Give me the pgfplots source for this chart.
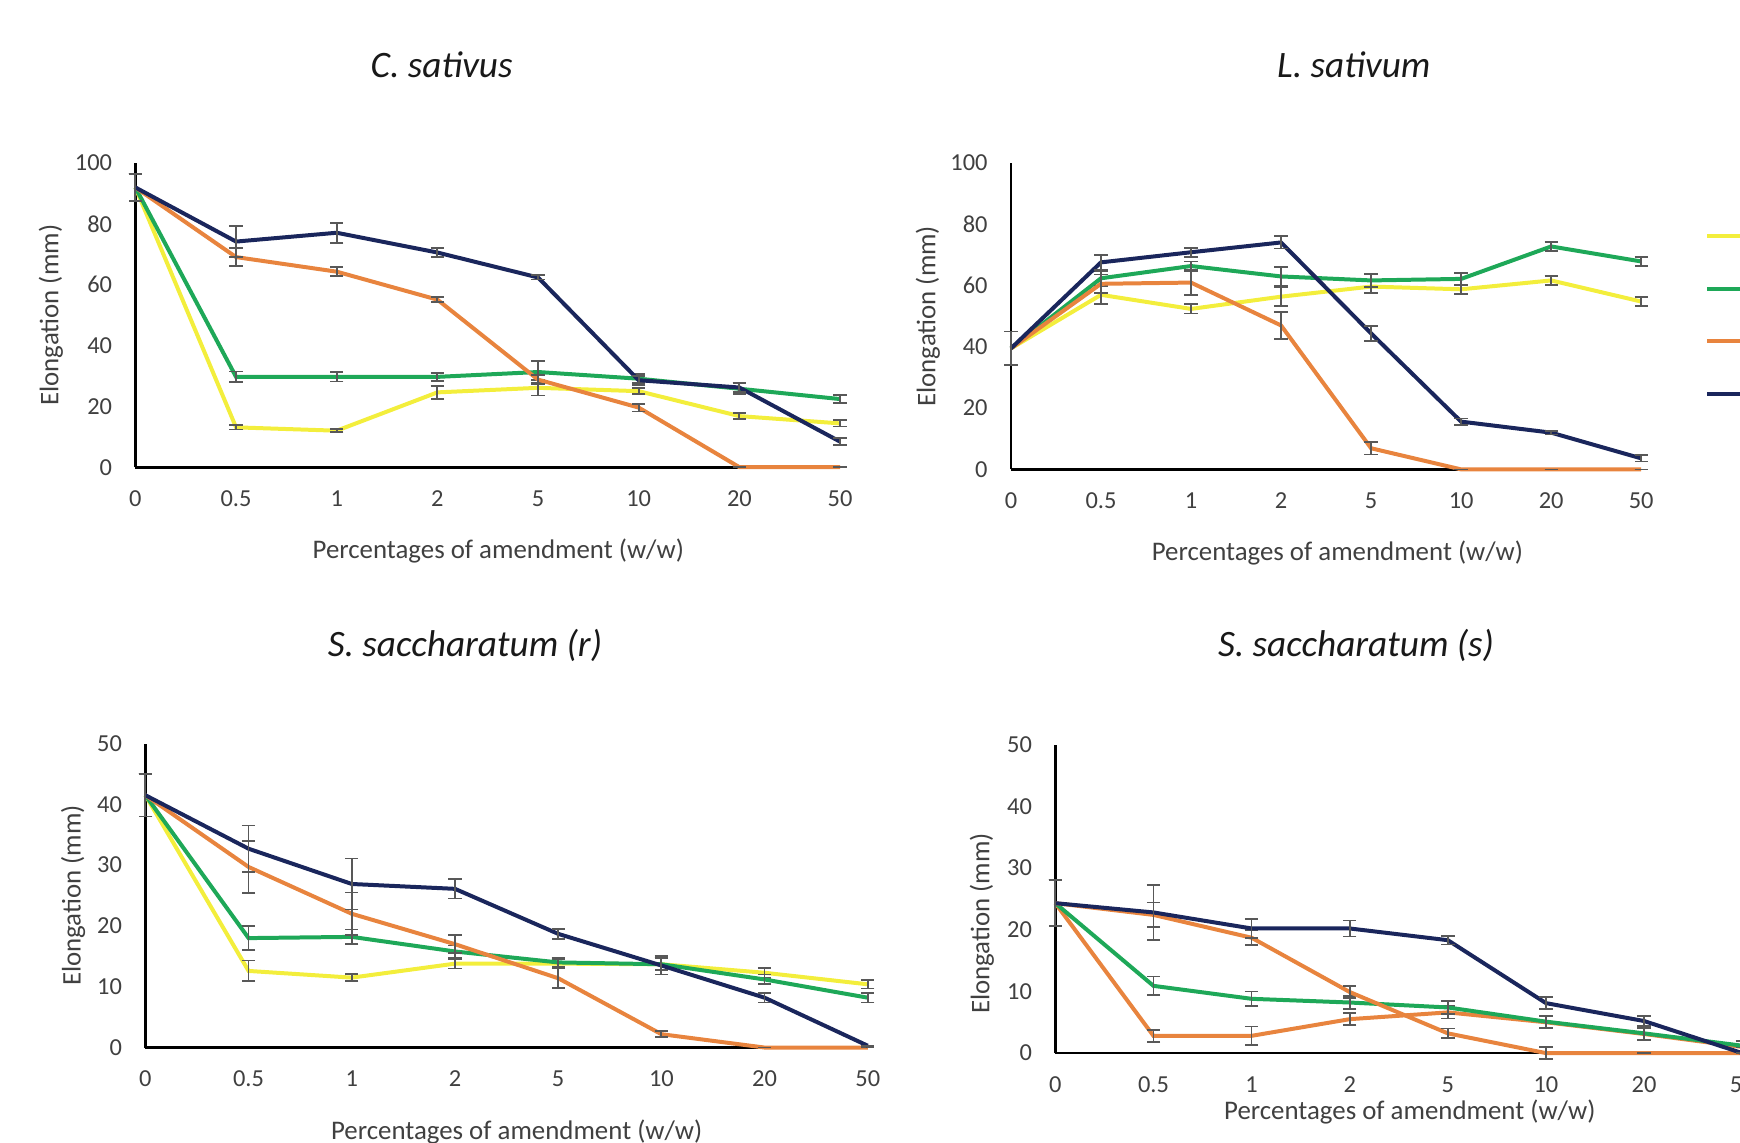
\documentclass[border=0pt]{standalone}
\usepackage{fontspec}
\setmainfont{Carlito}
\usepackage{pgfplots}
\usepackage{pgfplotstable}
\pgfplotsset{compat=1.18}

\definecolor{cyel}{RGB}{243,238,60}
\definecolor{cgrn}{RGB}{30,168,88}
\definecolor{corg}{RGB}{232,132,62}
\definecolor{cnav}{RGB}{26,38,92}
\definecolor{errgray}{RGB}{88,88,88}
\definecolor{txtgray}{RGB}{64,64,64}

% columns: x, series value, error (y = yellow, g = green, o = orange, n = navy)
\pgfplotstableread{
x  y    ye   g    ge   o    oe   n    ne
0  92.0 4.5  92.0 4.5  92.0 4.5  92.0 4.5
1  13.1 0.7  29.7 1.8  69.1 3.0  74.2 5.0
2  12.0 0.5  29.7 1.5  64.3 1.5  77.1 3.3
3  24.6 2.2  29.7 1.3  55.1 0.8  70.6 1.5
4  26.1 2.5  31.3 3.6  28.8 1.5  62.4 0.7
5  25.0 1.0  29.1 1.5  19.6 1.3  28.6 1.5
6  16.8 1.0  25.8 1.8  0.0  0.0  26.2 1.5
7  14.4 1.0  22.4 1.3  0.0  0.0  8.4  1.2
}\csativus

\pgfplotstableread{
x  y    ye   g    ge   o    oe   n    ne
0  39.5 5.5  39.5 5.5  39.5 5.5  39.5 5.5
1  57.0 3.0  62.4 2.5  60.6 3.0  67.6 2.5
2  52.4 1.5  66.4 1.5  61.0 4.0  70.9 1.5
3  56.4 3.0  63.0 3.0  47.0 4.5  74.1 2.0
4  59.7 2.0  61.7 2.2  6.9  2.0  44.4 2.5
5  58.8 1.5  62.2 2.0  0.0  0.0  15.6 1.0
6  61.7 1.5  72.8 1.5  0.0  0.0  12.0 0.6
7  54.8 1.5  67.9 1.5  0.0  0.0  3.6  1.0
}\lsativum

\pgfplotstableread{
x  y    ye   g    ge   o    oe   n    ne
0  41.5 3.5  41.5 3.5  41.5 3.5  41.5 3.5
1  12.6 1.7  18.0 2.0  29.7 4.3  32.7 3.8
2  11.5 0.6  18.2 1.2  22.0 3.5  26.9 4.2
3  13.8 0.8  15.8 1.0  17.0 1.5  26.1 1.6
4  13.8 0.8  14.0 0.8  11.4 1.6  18.7 0.8
5  13.7 1.0  13.7 1.0  2.2  0.5  13.5 1.5
6  12.3 0.8  11.2 0.8  0.0  0.0  8.2  0.8
7  10.4 0.7  8.2  0.8  0.0  0.0  0.3  0.0
}\ssacr

\pgfplotstableread{
x  y    ye   g    ge   o    oe   n    ne
0  24.3 3.7  24.3 3.7  24.3 3.7  24.3 3.7
1  2.8  1.0  10.9 1.5  22.4 2.0  22.8 4.5
2  2.8  1.5  8.8  1.2  18.7 1.2  20.2 1.5
3  5.5  1.0  8.2  1.0  9.9  1.0  20.2 1.3
4  6.6  1.0  7.4  1.0  3.2  0.8  18.3 0.7
5  5.0  1.0  5.1  1.0  0.0  1.0  8.1  1.0
6  3.1  1.0  3.2  1.0  0.0  0.0  5.2  0.8
7  1.0  0.0  1.2  0.8  0.0  0.0  0.0  0.0
}\ssacs

\tikzset{ttl/.style={font=\fontsize{16.8}{19}\selectfont\itshape, text=black!90}}

\pgfplotsset{
  elong/.style={
    scale only axis,
    anchor=south west,
    xmin=0, xmax=7,
    xtick={0,...,7},
    xticklabels={0,0.5,1,2,5,10,20,50},
    axis x line=bottom,
    axis y line=left,
    axis line style={-, black, line width=1.2pt},
    major tick length=0pt,
    tick label style={font=\fontsize{11}{13}\selectfont, text=txtgray},
    /pgf/number format/assume math mode=true,
    yticklabel style={xshift=-7pt},
    xticklabel style={yshift=-7pt},
    label style={font=\fontsize{12.1}{14}\selectfont, text=txtgray},
    ylabel={Elongation (mm)},
    xlabel={Percentages of amendment (w/w)},
    clip=false,
    every axis plot/.append style={line width=1.8pt, no markers},
    error bars/y dir=both,
    error bars/y explicit,
    error bars/error bar style={line width=0.8pt, color=errgray},
    error bars/error mark options={rotate=90, mark size=3pt, line width=0.8pt, color=errgray},
  },
}

\begin{document}
\begin{tikzpicture}
\path[use as bounding box] (0,0) rectangle (784pt,515pt);
\clip (0,0) rectangle (784pt,515pt);

\node[ttl] at (199pt,486pt) {C. sativus};
\node[ttl] at (610pt,486pt) {L. sativum};
\node[ttl] at (209.5pt,224pt) {S. saccharatum (r)};
\node[ttl] at (611pt,224pt) {S. saccharatum (s)};

% C. sativus
\begin{axis}[elong, at={(61pt,304.5pt)}, width=317.5pt, height=137pt,
  ymin=0, ymax=100, ytick={0,20,...,100},
  xlabel style={at={(axis description cs:0.515,-0.274)}, anchor=center},
  ylabel style={at={(axis description cs:-0.12,0.5)}, anchor=center}]
\addplot[cyel] table[x=x, y=y, y error=ye] {\csativus};
\addplot[cgrn] table[x=x, y=g, y error=ge] {\csativus};
\addplot[corg] table[x=x, y=o, y error=oe] {\csativus};
\addplot[cnav] table[x=x, y=n, y error=ne] {\csativus};
\end{axis}

% L. sativum
\begin{axis}[elong, at={(455.5pt,303.5pt)}, width=284pt, height=138pt,
  ymin=0, ymax=100, ytick={0,20,...,100},
  xlabel style={at={(axis description cs:0.518,-0.272)}, anchor=center},
  ylabel style={at={(axis description cs:-0.132,0.5)}, anchor=center},
  legend style={at={(1.09,0.504)}, anchor=west, draw=none, fill=none,
    font=\fontsize{11}{13}\selectfont, row sep=9pt},
  legend image code/.code={\draw[line width=1.8pt] (0cm,0cm) -- (1.2cm,0cm);}]
\addplot[cyel] table[x=x, y=y, y error=ye] {\lsativum};
\addlegendentry{\strut}
\addplot[cgrn] table[x=x, y=g, y error=ge] {\lsativum};
\addlegendentry{\strut}
\addplot[corg] table[x=x, y=o, y error=oe] {\lsativum};
\addlegendentry{\strut}
\addplot[cnav] table[x=x, y=n, y error=ne] {\lsativum};
\addlegendentry{\strut}
\end{axis}

% S. saccharatum (r)
\begin{axis}[elong, at={(65.5pt,43pt)}, width=325.5pt, height=137pt,
  ymin=0, ymax=50, ytick={0,10,...,50},
  xlabel style={at={(axis description cs:0.514,-0.277)}, anchor=center},
  ylabel style={at={(axis description cs:-0.1,0.5)}, anchor=center}]
\addplot[cyel] table[x=x, y=y, y error=ye] {\ssacr};
\addplot[cgrn] table[x=x, y=g, y error=ge] {\ssacr};
\addplot[corg] table[x=x, y=o, y error=oe] {\ssacr};
\addplot[cnav] table[x=x, y=n, y error=ne] {\ssacr};
\end{axis}

% S. saccharatum (s)
\begin{axis}[elong, at={(475.5pt,40.5pt)}, width=309.5pt, height=139pt,
  ymin=0, ymax=50, ytick={0,10,...,50},
  xlabel style={at={(axis description cs:0.516,-0.19)}, anchor=center},
  ylabel style={at={(axis description cs:-0.107,0.42)}, anchor=center}]
\addplot[corg] table[x=x, y=y, y error=ye] {\ssacs};
\addplot[cgrn] table[x=x, y=g, y error=ge] {\ssacs};
\addplot[corg] table[x=x, y=o, y error=oe] {\ssacs};
\addplot[cnav] table[x=x, y=n, y error=ne] {\ssacs};
\end{axis}
\end{tikzpicture}
\end{document}
